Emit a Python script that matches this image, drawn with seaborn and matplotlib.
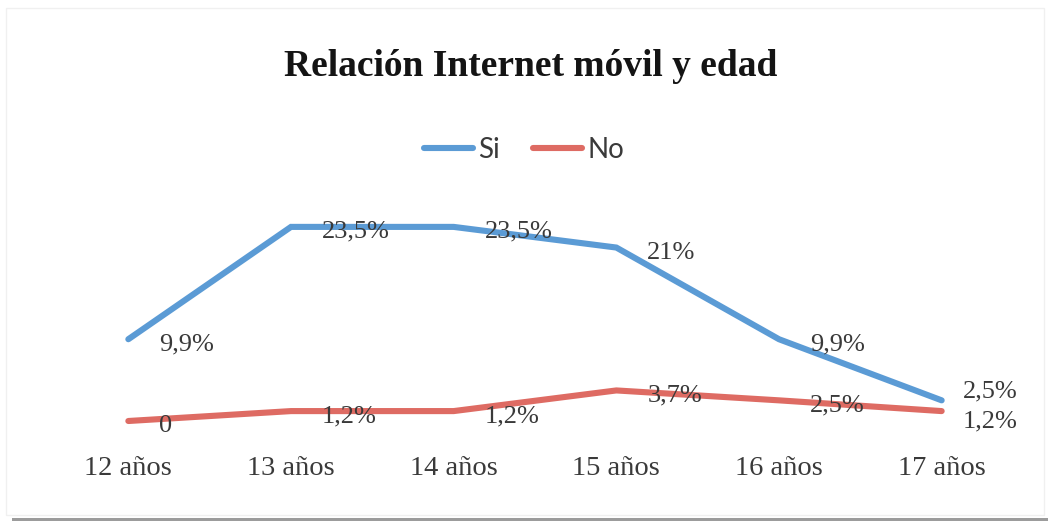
import matplotlib
matplotlib.use("Agg")
import matplotlib.pyplot as plt
from matplotlib.lines import Line2D
from matplotlib.patches import Rectangle
import numpy as np
import pandas as pd
import seaborn as sns

# Data
edades = ["12 años", "13 años", "14 años", "15 años", "16 años", "17 años"]
si_valores = [9.9, 23.5, 23.5, 21.0, 9.9, 2.5]
no_valores = [0.0, 1.2, 1.2, 3.7, 2.5, 1.2]
series = ["Si", "No"]
colores = {"Si": "#5B9BD5", "No": "#DE6B63"}

df = pd.DataFrame({
    "pos": list(range(len(edades))) * 2,
    "edad": edades * 2,
    "valor": si_valores + no_valores,
    "serie": ["Si"] * len(edades) + ["No"] * len(edades),
})

sns.set_theme(style="white")
plt.rcParams["font.family"] = ["Liberation Serif", "DejaVu Serif"]

fig = plt.figure(figsize=(10.48, 5.23), dpi=100)
W, H = 1048, 523
ax = fig.add_axes([47 / W, 1 - 421 / H, (1023 - 47) / W, (421 - 214.5) / H])

sns.lineplot(data=df, x="pos", y="valor", hue="serie", palette=colores,
             hue_order=series, linewidth=4.4, sort=False, legend=False,
             ax=ax)
for ln in ax.lines:
    ln.set_solid_capstyle("round")
    ln.set_solid_joinstyle("miter")
    ln.set_clip_on(False)

ax.set_xlim(-0.5, len(edades) - 0.5)
ax.set_ylim(0, 25)
ax.set_xticks(range(len(edades)))
ax.set_xticklabels(edades, fontsize=20.5, color="#3a3a3a")
ax.tick_params(axis="x", length=0, pad=25)
ax.set_yticks([])
ax.set_xlabel("")
ax.set_ylabel("")
for s in ax.spines.values():
    s.set_visible(False)
ax.patch.set_alpha(0)


def etiqueta(v):
    if v == 0:
        return "0"
    txt = f"{v:.1f}".rstrip("0").rstrip(".")
    return txt.replace(".", ",") + "%"


ultimo = len(edades) - 1
for nombre, valores in (("Si", si_valores), ("No", no_valores)):
    for i, v in enumerate(valores):
        if i == ultimo:
            off = (21, 9) if nombre == "Si" else (21, -10)
        else:
            off = (31, -5)
        ax.annotate(etiqueta(v), xy=(i, v), xytext=off,
                    textcoords="offset pixels", ha="left", va="center",
                    fontsize=19, color="#3a3a3a", annotation_clip=False)

# Title
fig.text(531 / W, 1 - 67 / H, "Relación Internet móvil y edad",
         ha="center", va="center", fontsize=27, fontweight="bold",
         color="#141414")

# Legend
handles = [Line2D([0], [0], color=colores[s], lw=4.4,
                  solid_capstyle="round") for s in series]
leg = fig.legend(handles, series, loc="center", ncol=2,
                 bbox_to_anchor=(524 / W, 1 - 150 / H), frameon=False,
                 handlelength=1.75, handletextpad=0.2, columnspacing=1.2,
                 prop={"family": "Lato", "size": 20})
for t in leg.get_texts():
    t.set_color("#3a3a3a")

# Chart frame with a soft bottom shadow
fig.patches.append(Rectangle((6 / W, 8 / H), (W - 10) / W, (H - 16) / H,
                             transform=fig.transFigure, fill=False,
                             edgecolor="#f0f0f0", linewidth=1.0))
fig.patches.append(Rectangle((12 / W, 2 / H), (W - 12) / W, 3 / H,
                             transform=fig.transFigure, facecolor="#9c9c9c",
                             edgecolor="none"))

fig.savefig("out.png", dpi=100, facecolor="white")
